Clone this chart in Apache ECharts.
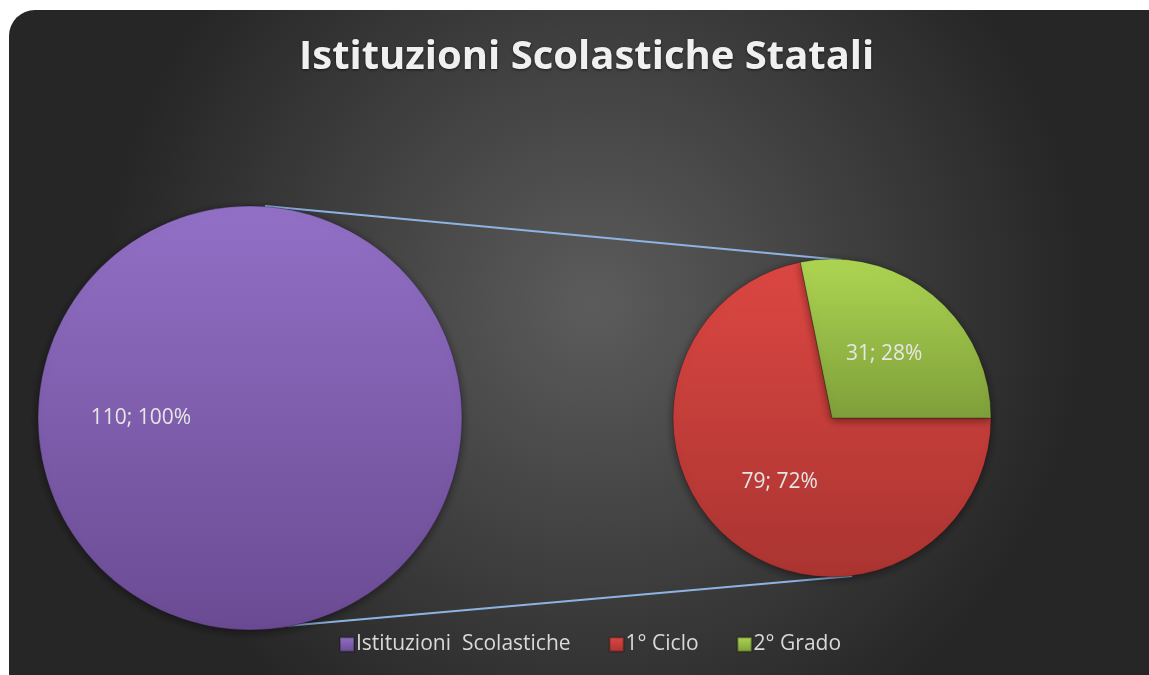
<!DOCTYPE html>
<html>
<head>
<meta charset="utf-8">
<script src="https://cdn.jsdelivr.net/npm/echarts@6/dist/echarts.min.js"></script>
<style>
  html, body { margin: 0; padding: 0; background: #fff; }
  #chart { width: 1149px; height: 675px; }
</style>
</head>
<body>
<div id="chart"></div>
<script>
// dati del grafico
let totalNames = ['Istituzioni  Scolastiche']
let totalValues = [110]
let detailNames = ['1° Ciclo', '2° Grado']
let detailValues = [79, 31]

let pieColors = {
  'Istituzioni  Scolastiche': ['#9270c6', '#6a4b93'],
  '1° Ciclo': ['#dc4742', '#aa3431'],
  '2° Grado': ['#aed552', '#7e9f3a']
}

;(function () {
  let myChart = echarts.init(document.querySelector('#chart'))

  // posizioni delle due torte
  let cy = 418
  let big = { cx: 250, r: 212 }
  let small = { cx: 832, r: 159 }

  let grad = function (name) {
    return new echarts.graphic.LinearGradient(0, 0, 0, 1, [
      { offset: 0, color: pieColors[name][0] },
      { offset: 1, color: pieColors[name][1] }
    ])
  }

  let toData = function (names, values) {
    return names.map(function (n, i) {
      return { name: n, value: values[i], itemStyle: { color: grad(n) } }
    })
  }

  let labelStyle = {
    show: true,
    position: 'inside',
    // valore; percentuale arrotondata
    formatter: function (p) {
      return p.value + '; ' + Math.round(p.percent) + '%'
    },
    color: '#e6e6e6',
    fontSize: 21,
    fontFamily: 'Open Sans'
  }

  let itemStyle = {
    borderColor: 'rgba(0,0,0,0.25)',
    borderWidth: 1,
    shadowBlur: 8,
    shadowColor: 'rgba(0,0,0,0.45)',
    shadowOffsetY: 2
  }

  let option = {
    animation: false,
    title: {
      text: 'Istituzioni Scolastiche Statali',
      left: 294,
      top: 33,
      textStyle: {
        color: '#f0f0f0',
        fontSize: 40,
        fontWeight: 'bold',
        fontFamily: 'Open Sans',
        textShadowColor: 'rgba(0,0,0,0.6)',
        textShadowBlur: 3,
        textShadowOffsetY: 1
      }
    },
    legend: {
      data: totalNames.concat(detailNames),
      bottom: 15,
      left: 334,
      icon: 'rect',
      itemWidth: 14,
      itemHeight: 14,
      itemGap: 38,
      textStyle: {
        color: '#d9d9d9',
        fontSize: 21,
        fontFamily: 'Open Sans',
        padding: [0, 0, 0, -3]
      }
    },
    graphic: [
      {
        type: 'rect',
        z: -10,
        silent: true,
        shape: { x: 9, y: 10, width: 1170, height: 700, r: 26 },
        style: {
          fill: new echarts.graphic.RadialGradient(0.5, 0.42, 0.7, [
            { offset: 0, color: '#5c5c5c' },
            { offset: 1, color: '#262626' }
          ])
        }
      },
      {
        type: 'line',
        z: 1,
        silent: true,
        shape: { x1: big.cx + 15, y1: cy - big.r, x2: small.cx + 10, y2: cy - small.r + 1 },
        style: { stroke: '#8db3e2', lineWidth: 2 }
      },
      {
        type: 'line',
        z: 1,
        silent: true,
        shape: { x1: big.cx + 13, y1: cy + big.r - 2, x2: small.cx + 20, y2: cy + small.r - 1 },
        style: { stroke: '#8db3e2', lineWidth: 2 }
      }
    ],
    series: [
      {
        name: 'Istituzioni Scolastiche',
        type: 'pie',
        z: 3,
        center: [big.cx, cy],
        radius: big.r,
        startAngle: 0,
        clockwise: true,
        label: labelStyle,
        labelLine: { show: false },
        itemStyle: itemStyle,
        data: toData(totalNames, totalValues)
      },
      {
        name: 'Dettaglio',
        type: 'pie',
        z: 3,
        center: [small.cx, cy],
        radius: small.r,
        startAngle: 0,
        clockwise: true,
        label: labelStyle,
        labelLine: { show: false },
        itemStyle: itemStyle,
        data: toData(detailNames, detailValues)
      }
    ]
  }
  myChart.setOption(option)
})()
</script>
</body>
</html>
